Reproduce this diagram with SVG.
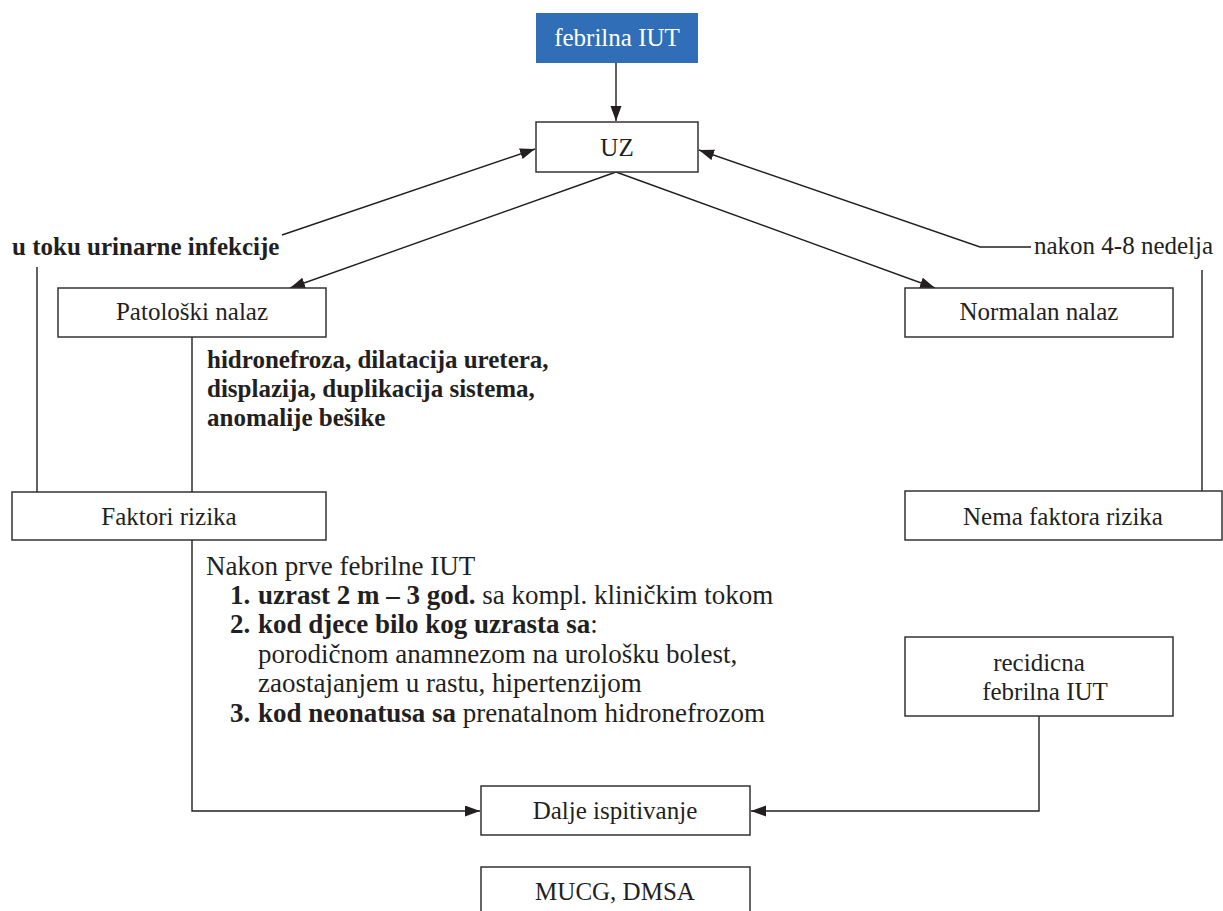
<svg xmlns="http://www.w3.org/2000/svg" width="1223" height="911" viewBox="0 0 1223 911">
<style>
.box{fill:#fff;stroke:#333;stroke-width:1.5}
.lbl{font-family:"Liberation Serif",serif;font-size:25px;fill:#231f20;text-anchor:middle}
.txt{font-family:"Liberation Serif",serif;font-size:25px;fill:#231f20}
.blk{font-family:"Liberation Serif",serif;font-size:27px;fill:#231f20}
.b{font-weight:bold}
.ln{fill:none;stroke:#231f20;stroke-width:1.4}
</style>
<defs>
<marker id="ah" markerUnits="userSpaceOnUse" markerWidth="16" markerHeight="12" refX="15" refY="5.5" orient="auto">
<path d="M0,0 L15,5.5 L0,11 z" fill="#231f20"/>
</marker>
</defs>
<rect width="1223" height="911" fill="#fff"/>
<g id="connectors">
<line class="ln" x1="616" y1="63" x2="616" y2="121" marker-end="url(#ah)"/>
<line class="ln" x1="282" y1="235" x2="535" y2="149" marker-end="url(#ah)"/>
<polyline class="ln" points="1031,247 980,247 699,150" marker-end="url(#ah)"/>
<line class="ln" x1="616" y1="172" x2="290" y2="288" marker-end="url(#ah)"/>
<line class="ln" x1="616" y1="172" x2="935" y2="288" marker-end="url(#ah)"/>
<line class="ln" x1="37" y1="267" x2="37" y2="492"/>
<line class="ln" x1="192" y1="337" x2="192" y2="492"/>
<line class="ln" x1="1202" y1="270" x2="1202" y2="491"/>
<polyline class="ln" points="192,540 192,811 480,811" marker-end="url(#ah)"/>
<polyline class="ln" points="1039,716 1039,811 751,811" marker-end="url(#ah)"/>
</g>
<g id="n-febrilna">
<rect x="536" y="13" width="162" height="50" fill="#306fb8"/>
<text class="lbl" x="617" y="46" style="fill:#fff">febrilna IUT</text>
</g>
<g id="n-uz">
<rect class="box" x="536" y="122" width="162" height="50"/>
<text class="lbl" x="617" y="156">UZ</text>
</g>
<g id="n-toku">
<text class="txt b" x="12" y="255">u toku urinarne infekcije</text>
</g>
<g id="n-nakon">
<text class="txt" x="1034" y="254">nakon 4-8 nedelja</text>
</g>
<g id="n-patoloski">
<rect class="box" x="58" y="288" width="268" height="49"/>
<text class="lbl" x="192" y="320">Patološki nalaz</text>
</g>
<g id="n-normalan">
<rect class="box" x="905" y="288" width="268" height="49"/>
<text class="lbl" x="1039" y="320">Normalan nalaz</text>
</g>
<g id="n-nalazi">
<text class="txt b" x="207" y="368">hidronefroza, dilatacija uretera,</text>
<text class="txt b" x="207" y="397">displazija, duplikacija sistema,</text>
<text class="txt b" x="207" y="426">anomalije bešike</text>
</g>
<g id="n-faktori">
<rect class="box" x="12" y="492" width="314" height="48"/>
<text class="lbl" x="169" y="525">Faktori rizika</text>
</g>
<g id="n-nema">
<rect class="box" x="905" y="491" width="317" height="49"/>
<text class="lbl" x="1063" y="525">Nema faktora rizika</text>
</g>
<g id="n-kriteriji">
<text class="blk" x="206" y="575">Nakon prve febrilne IUT</text>
<text class="blk" y="604"><tspan class="b" x="230">1.</tspan><tspan class="b" x="258">uzrast 2 m – 3 god.</tspan> sa kompl. kliničkim tokom</text>
<text class="blk" y="633"><tspan class="b" x="230">2.</tspan><tspan class="b" x="258">kod djece bilo kog uzrasta sa</tspan>:</text>
<text class="blk" x="258" y="663">porodičnom anamnezom na urološku bolest,</text>
<text class="blk" x="258" y="692">zaostajanjem u rastu, hipertenzijom</text>
<text class="blk" y="722"><tspan class="b" x="230">3.</tspan><tspan class="b" x="258">kod neonatusa sa</tspan> prenatalnom hidronefrozom</text>
</g>
<g id="n-recidicna">
<rect class="box" x="905" y="637" width="268" height="79"/>
<text class="lbl" x="1039" y="671">recidicna</text>
<text class="lbl" x="1045" y="700">febrilna IUT</text>
</g>
<g id="n-dalje">
<rect class="box" x="481" y="786" width="269" height="49"/>
<text class="lbl" x="615" y="819">Dalje ispitivanje</text>
</g>
<g id="n-mucg">
<rect class="box" x="481" y="867" width="269" height="60"/>
<text class="lbl" x="615" y="900">MUCG, DMSA</text>
</g>
</svg>
